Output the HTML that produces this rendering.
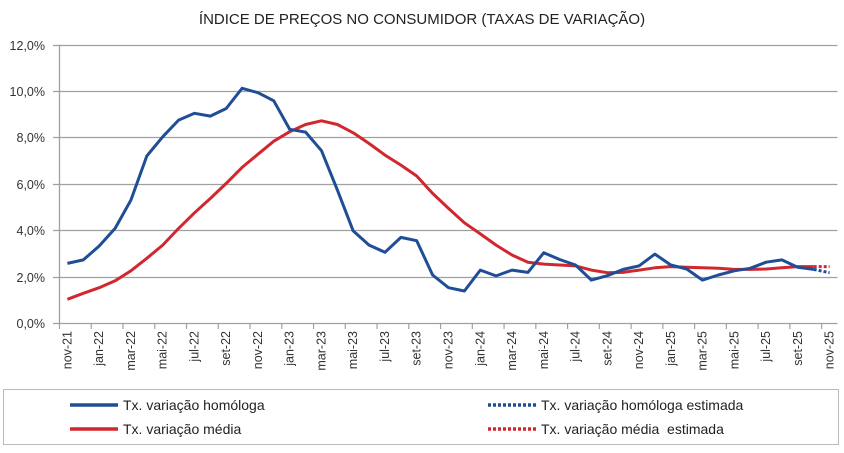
<!DOCTYPE html>
<html><head><meta charset="utf-8">
<style>
html,body{margin:0;padding:0;background:#fff;}
body{width:844px;height:448px;overflow:hidden;font-family:"Liberation Sans",sans-serif;}
svg text{font-family:"Liberation Sans",sans-serif;}
</style></head>
<body>
<svg id="chart" width="844" height="448">
  <text x="422" y="24" text-anchor="middle" font-size="15" fill="#222">ÍNDICE DE PREÇOS NO CONSUMIDOR (TAXAS DE VARIAÇÃO)</text>
  <g id="grid"></g>
  <g id="yaxis"></g>
  <g id="xaxis"></g>
  <g id="series"></g>
  <g>
    <rect x="3.5" y="389.5" width="835" height="55" fill="#fff" stroke="#bbb"/>
    <g>
      <line x1="70" y1="405" x2="118" y2="405" stroke="#1f4e96" stroke-width="3.5"/>
      <text x="123" y="410" font-size="14" fill="#222">Tx. variação homóloga</text>
    </g>
    <g>
      <line x1="70" y1="429" x2="118" y2="429" stroke="#d0282e" stroke-width="3.5"/>
      <text x="123" y="434" font-size="14" fill="#222">Tx. variação média</text>
    </g>
    <g>
      <line x1="488" y1="405" x2="536" y2="405" stroke="#1f4e96" stroke-width="3.5" stroke-dasharray="3,2"/>
      <text x="541" y="410" font-size="14" fill="#222">Tx. variação homóloga estimada</text>
    </g>
    <g>
      <line x1="488" y1="429" x2="536" y2="429" stroke="#d0282e" stroke-width="3.5" stroke-dasharray="3,2"/>
      <text x="541" y="434" font-size="14" fill="#222">Tx. variação média&#160; estimada</text>
    </g>
  </g>
</svg>
<script>
const months = ["nov-21","dez-21","jan-22","fev-22","mar-22","abr-22","mai-22","jun-22","jul-22","ago-22","set-22","out-22","nov-22","dez-22","jan-23","fev-23","mar-23","abr-23","mai-23","jun-23","jul-23","ago-23","set-23","out-23","nov-23","dez-23","jan-24","fev-24","mar-24","abr-24","mai-24","jun-24","jul-24","ago-24","set-24","out-24","nov-24","dez-24","jan-25","fev-25","mar-25","abr-25","mai-25","jun-25","jul-25","ago-25","set-25","out-25","nov-25"];
const homologa = [2.57,2.72,3.32,4.08,5.3,7.2,8.03,8.75,9.04,8.92,9.25,10.12,9.93,9.58,8.35,8.23,7.43,5.73,3.97,3.36,3.05,3.69,3.55,2.07,1.52,1.38,2.28,2.03,2.28,2.18,3.03,2.74,2.5,1.85,2.04,2.31,2.46,2.97,2.5,2.33,1.85,2.07,2.25,2.36,2.62,2.72,2.4,2.31];
const media = [1.02,1.28,1.52,1.82,2.25,2.79,3.36,4.08,4.75,5.37,6.02,6.71,7.28,7.84,8.25,8.56,8.72,8.56,8.2,7.74,7.24,6.81,6.34,5.59,4.94,4.32,3.84,3.36,2.93,2.62,2.54,2.5,2.46,2.28,2.17,2.18,2.28,2.38,2.43,2.4,2.38,2.36,2.31,2.31,2.33,2.38,2.43,2.43];
const homologaEst = [2.17];
const mediaEst = [2.43];
const yTicks = [0,2,4,6,8,10,12];
const yTickLabels = ["0,0%","2,0%","4,0%","6,0%","8,0%","10,0%","12,0%"];

const NS="http://www.w3.org/2000/svg";
const X0=59.5, X1=837.5, Y0=323, Y1=44.7, YMAX=12;
const step=(X1-X0)/months.length;
function xPos(i){return X0+(i+0.5)*step;}
function yPos(v){return Y0-(v/YMAX)*(Y0-Y1);}
function mk(tag,attrs,parent){const e=document.createElementNS(NS,tag);for(const k in attrs)e.setAttribute(k,attrs[k]);parent.appendChild(e);return e;}

const grid=document.getElementById('grid'), yaxis=document.getElementById('yaxis'), xaxis=document.getElementById('xaxis'), series=document.getElementById('series');
yTicks.forEach((t,i)=>{
  const y=Math.round(yPos(t))+0.5;
  const g=mk('line',{x1:53,x2:X1,y1:y,y2:y,stroke:'#a0a0a0','stroke-width':1.3},grid);
  
  
  const tx=mk('text',{x:45,y:y+4.5,'text-anchor':'end','font-size':12.5,fill:'#333'},yaxis);
  tx.textContent=yTickLabels[i];
  
  
});
mk('line',{x1:X0,x2:X0,y1:Y1,y2:Y0,stroke:'#a0a0a0','stroke-width':1.3},yaxis);
for(let i=0;i<=months.length;i+=2){
  const x=X0+i*step;
  mk('line',{x1:x,x2:x,y1:Y0,y2:Y0+6,stroke:'#a0a0a0','stroke-width':1.2},xaxis);
}
months.forEach((m,i)=>{
  if(i%2) return;
  const x=xPos(i)+4, y=Y0+8;
  const t=mk('text',{x:x,y:y,'text-anchor':'end','font-size':12.5,fill:'#333',transform:`rotate(-90 ${x} ${y})`},xaxis);
  t.textContent=m;
  
  
});
function line(data,color,name,offset,dash){
  const pts=data.map((v,i)=>xPos(i+offset).toFixed(1)+','+yPos(v).toFixed(1)).join(' ');
  const p=mk('polyline',{points:pts,fill:'none',stroke:color,'stroke-width':3,'stroke-linejoin':'round'},series);
  if(dash)p.setAttribute('stroke-dasharray',dash);
  
  
}
const n=homologa.length;
line(media,'#d0282e','line-media',0);
line(homologa,'#1f4e96','line-homologa',0);
line([media[n-1]].concat(mediaEst),'#d0282e','line-media-estimada',n-1,'3,2');
line([homologa[n-1]].concat(homologaEst),'#1f4e96','line-homologa-estimada',n-1,'3,2');
</script>
</body></html>
